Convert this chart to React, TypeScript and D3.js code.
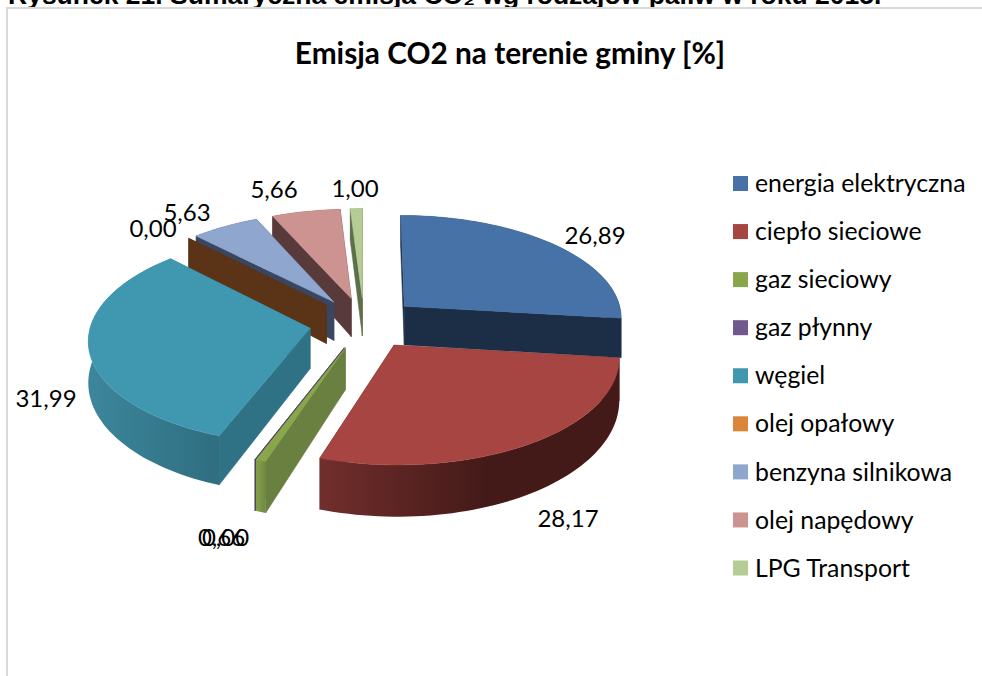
import React from "react";
import * as d3 from "d3";

const categories = ["energia elektryczna","ciepło sieciowe","gaz sieciowy","gaz płynny","węgiel","olej opałowy","benzyna silnikowa","olej napędowy","LPG Transport"];
const values = [26.89,28.17,0.66,0.0,31.99,0.0,5.63,5.66,1.0];
const valueLabels = ["26,89","28,17","0,66","0,00","31,99","0,00","5,63","5,66","1,00"];
const topColors = ["#4672A8","#A64541","#8AA64C","#71588F","#3F98B0","#DD843B","#8FA6CF","#CD9391","#B6CC95"];
const cutColors = ["#1C2D46","#5A2321","#6A8040","#4A3A60","#2F7286","#5B3418","#3A4660","#583A3A","#5D6F49"];
const wallLeft = ["#1C2D46","#712E2C","#86A14A","#4A3A60","#3C869B","#5B3418","#3A4660","#583A3A","#5D6F49"];
const wallRight = ["#1C2D46","#441A18","#6F8842","#4A3A60","#306F82","#5B3418","#3A4660","#583A3A","#5D6F49"];
const wallStop = [1,0.55,1,1,0.95,1,1,1,1];
const labelCenters: [number, number][] = [[595,236],[568,519],[221.5,538],[225.5,538],[46,399],[153,229],[187,213],[274,190],[355,189]];
const drawOrder = [8,7,6,5,0,4,3,2,1];

const CX = 364, CY = 323, A = 219, B = 103, P = 0.1, EXPLODE = 0.25, H = 40;
const FONT = "Lato, Carlito, sans-serif";

const project = (X: number, Y: number, down = false): [number, number] => {
  const s = 1 / (1 - P * Y);
  return [CX + A * X * s, CY + B * Y * s + (down ? H * s * s : 0)];
};

const pieGen = d3.pie<number>().sort(null).value(d => d);
const arcs = pieGen(values);
const line = d3.line().curve(d3.curveLinearClosed);

function geometry(i: number) {
  const { startAngle: a0, endAngle: a1 } = arcs[i];
  const mid = (a0 + a1) / 2;
  const ex = Math.sin(mid) * EXPLODE, ey = -Math.cos(mid) * EXPLODE;
  const n = Math.max(2, Math.ceil((a1 - a0) / 0.03));
  const angles = d3.range(n + 1).map(k => a0 + ((a1 - a0) * k) / n);
  const rim = (down: boolean) => angles.map(t => project(ex + Math.sin(t), ey - Math.cos(t), down));
  const apex = project(ex, ey), apexD = project(ex, ey, true);
  const top = rim(false), bottom = rim(true);
  return {
    topFace: [apex, ...top],
    wall: [...top, ...[...bottom].reverse()],
    cutA: [apex, top[0], bottom[0], apexD],
    cutB: [apex, top[n], bottom[n], apexD],
  };
}

export default function App() {
  const legendY = d3.scalePoint<string>().domain(categories).range([183.5, 568]);
  return (
    <svg width={982} height={676} style={{ position: "absolute", left: 0, top: 0, background: "#fff" }}>
      <defs>
        {categories.map((_, i) => (
          <linearGradient key={i} id={`w${i}`} x1="0" x2="1" y1="0" y2="0">
            <stop offset="0" stopColor={wallLeft[i]} />
            <stop offset={wallStop[i]} stopColor={wallRight[i]} />
            <stop offset="1" stopColor={wallRight[i]} />
          </linearGradient>
        ))}
      </defs>
      <text x={8} y={4} fontFamily="'Liberation Sans', sans-serif" fontWeight="bold" fontSize={26.5} fill="#000">
        Rysunek 21. Sumaryczna emisja CO₂ wg rodzajów paliw w roku 2015.
      </text>
      <path d="M7 676V8H982" fill="none" stroke="#d9d9d9" strokeWidth={2} />
      <text x={510} y={64} textAnchor="middle" fontFamily={FONT} fontWeight="bold" fontSize={29.8} fill="#000">
        Emisja CO2 na terenie gminy [%]
      </text>
      {drawOrder.map(i => {
        const g = geometry(i);
        const zero = values[i] === 0;
        return (
          <g key={i}>
            <path d={line(g.cutB as any)!} fill={cutColors[i]} stroke={cutColors[i]} strokeWidth={0.5} />
            <path d={line(g.cutA as any)!} fill={cutColors[i]} stroke={cutColors[i]} strokeWidth={0.5} />
            {!zero && <path d={line(g.wall as any)!} fill={`url(#w${i})`} />}
            {!zero && <path d={line(g.topFace as any)!} fill={topColors[i]} stroke={topColors[i]} strokeWidth={0.5} />}
          </g>
        );
      })}
      {valueLabels.map((t, i) => (
        <text key={i} x={labelCenters[i][0]} y={labelCenters[i][1]} dy="0.35em" textAnchor="middle" fontFamily={FONT} fontSize={24} fill="#000">
          {t}
        </text>
      ))}
      {categories.map((c, i) => (
        <g key={c}>
          <rect x={733} y={legendY(c)! - 7.5} width={15} height={15} fill={topColors[i]} />
          <text x={755} y={legendY(c)!} dy="0.35em" fontFamily={FONT} fontSize={24.8} fill="#000">{c}</text>
        </g>
      ))}
    </svg>
  );
}
